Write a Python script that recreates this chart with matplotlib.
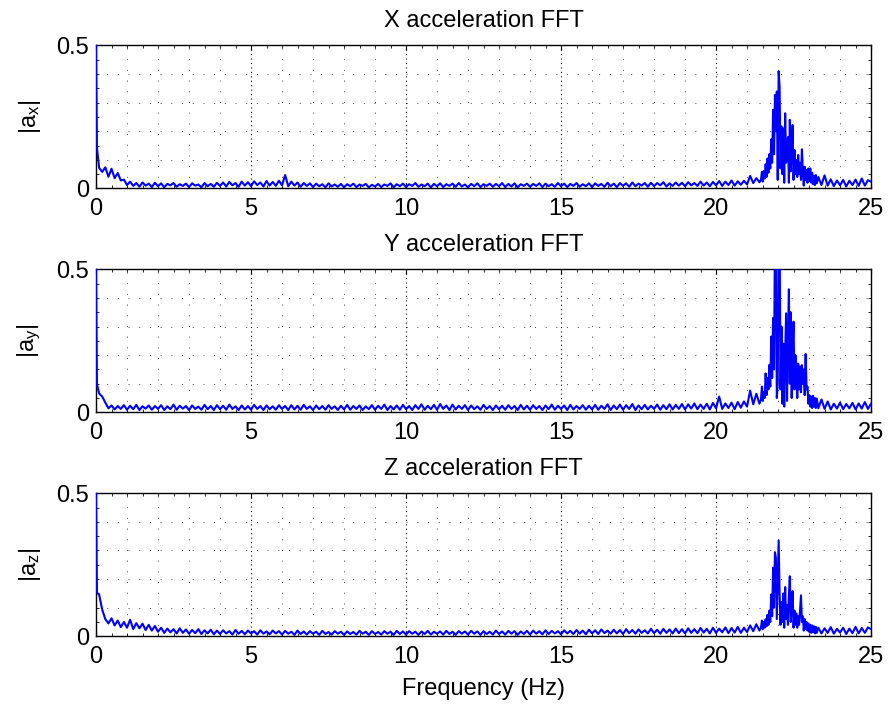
import matplotlib
matplotlib.use("Agg")
import matplotlib.pyplot as plt
import numpy as np

plt.rcParams['font.family'] = ['Liberation Sans', 'DejaVu Sans']
plt.rcParams['mathtext.fontset'] = 'custom'
plt.rcParams['mathtext.rm'] = 'Liberation Sans'

# frequency bins (Hz): DC + first bin, coarse up to 21.4, fine over the resonance, coarse tail
freq = np.concatenate([
    [0.0, 0.03],
    np.round(np.arange(0.1, 21.45, 0.1), 2),
    np.linspace(21.45, 23.25, 61),
    np.linspace(23.3, 25.0, 18),
])

# |a_x| spectrum
amp_x = [
    0.500, 0.142,
    0.072, 0.058, 0.074, 0.041, 0.069, 0.036, 0.054, 0.028, 0.031,
    0.012, 0.024, 0.009, 0.019, 0.006, 0.021, 0.010, 0.017, 0.005, 0.020,
    0.008, 0.018, 0.004, 0.016, 0.011, 0.019, 0.006, 0.015, 0.009, 0.017,
    0.005, 0.018, 0.010, 0.014, 0.004, 0.019, 0.008, 0.016, 0.006, 0.020,
    0.009, 0.021, 0.007, 0.023, 0.011, 0.019, 0.006, 0.024, 0.010, 0.022,
    0.008, 0.025, 0.012, 0.021, 0.007, 0.026, 0.010, 0.023, 0.009, 0.027,
    0.011, 0.047, 0.008, 0.024, 0.010, 0.021, 0.006, 0.019, 0.009, 0.018,
    0.005, 0.017, 0.008, 0.015, 0.004, 0.018, 0.007, 0.014, 0.006, 0.016,
    0.004, 0.015, 0.008, 0.017, 0.005, 0.014, 0.009, 0.016, 0.004, 0.013,
    0.007, 0.016, 0.005, 0.014, 0.009, 0.018, 0.004, 0.015, 0.008, 0.017,
    0.005, 0.015, 0.009, 0.019, 0.006, 0.014, 0.008, 0.017, 0.004, 0.016,
    0.008, 0.018, 0.005, 0.015, 0.009, 0.017, 0.006, 0.019, 0.007, 0.014,
    0.004, 0.016, 0.008, 0.018, 0.005, 0.015, 0.009, 0.017, 0.006, 0.016,
    0.008, 0.019, 0.005, 0.016, 0.007, 0.018, 0.004, 0.015, 0.009, 0.017,
    0.006, 0.016, 0.009, 0.018, 0.005, 0.017, 0.008, 0.015, 0.006, 0.019,
    0.008, 0.017, 0.005, 0.016, 0.009, 0.019, 0.006, 0.015, 0.008, 0.018,
    0.005, 0.018, 0.009, 0.016, 0.006, 0.020, 0.008, 0.017, 0.005, 0.019,
    0.009, 0.018, 0.006, 0.021, 0.008, 0.017, 0.010, 0.019, 0.006, 0.020,
    0.008, 0.019, 0.011, 0.022, 0.007, 0.018, 0.009, 0.021, 0.010, 0.020,
    0.008, 0.022, 0.011, 0.019, 0.009, 0.024, 0.010, 0.021, 0.008, 0.023,
    0.011, 0.026, 0.009, 0.024, 0.012, 0.028, 0.010, 0.025, 0.013, 0.027,
    0.014, 0.044, 0.019, 0.036, 0.022,
    # resonance
    0.030, 0.058, 0.024, 0.061, 0.035, 0.085, 0.040, 0.105, 0.055, 0.120,
    0.070, 0.172, 0.090, 0.275, 0.120, 0.327, 0.200, 0.339, 0.030, 0.410,
    0.356, 0.070, 0.217, 0.050, 0.210, 0.020, 0.263, 0.090, 0.140, 0.180,
    0.020, 0.240, 0.060, 0.130, 0.222, 0.030, 0.135, 0.050, 0.100, 0.040,
    0.117, 0.050, 0.090, 0.030, 0.137, 0.060, 0.010, 0.076, 0.030, 0.065,
    0.020, 0.070, 0.025, 0.070, 0.020, 0.055, 0.015, 0.045, 0.012, 0.047,
    0.018,
    # tail
    0.040, 0.012, 0.046, 0.010, 0.032, 0.008, 0.028, 0.011, 0.030, 0.007,
    0.027, 0.012, 0.031, 0.009, 0.035, 0.010, 0.029, 0.024,
]

# |a_y| spectrum
amp_y = [
    0.500, 0.098,
    0.066, 0.055, 0.034, 0.014, 0.024, 0.010, 0.022, 0.012, 0.025,
    0.009, 0.023, 0.011, 0.026, 0.008, 0.021, 0.013, 0.024, 0.009, 0.022,
    0.012, 0.025, 0.008, 0.021, 0.011, 0.027, 0.009, 0.023, 0.013, 0.022,
    0.008, 0.024, 0.012, 0.020, 0.009, 0.026, 0.011, 0.022, 0.008, 0.025,
    0.011, 0.023, 0.009, 0.027, 0.012, 0.021, 0.008, 0.024, 0.010, 0.022,
    0.009, 0.026, 0.012, 0.022, 0.008, 0.024, 0.011, 0.021, 0.009, 0.025,
    0.012, 0.022, 0.008, 0.025, 0.010, 0.023, 0.009, 0.026, 0.012, 0.021,
    0.008, 0.024, 0.011, 0.022, 0.009, 0.025, 0.012, 0.021, 0.008, 0.023,
    0.010, 0.026, 0.009, 0.022, 0.012, 0.024, 0.008, 0.021, 0.011, 0.025,
    0.009, 0.023, 0.012, 0.027, 0.008, 0.022, 0.010, 0.024, 0.009, 0.026,
    0.011, 0.022, 0.008, 0.025, 0.012, 0.028, 0.009, 0.023, 0.011, 0.026,
    0.009, 0.029, 0.012, 0.024, 0.008, 0.027, 0.010, 0.023, 0.012, 0.025,
    0.008, 0.024, 0.011, 0.021, 0.009, 0.026, 0.012, 0.022, 0.008, 0.024,
    0.011, 0.023, 0.009, 0.025, 0.012, 0.022, 0.008, 0.026, 0.010, 0.023,
    0.009, 0.025, 0.012, 0.022, 0.008, 0.024, 0.011, 0.027, 0.009, 0.023,
    0.012, 0.024, 0.008, 0.026, 0.010, 0.022, 0.012, 0.025, 0.009, 0.023,
    0.010, 0.026, 0.009, 0.023, 0.012, 0.028, 0.008, 0.024, 0.011, 0.027,
    0.009, 0.025, 0.012, 0.029, 0.008, 0.024, 0.011, 0.026, 0.010, 0.023,
    0.012, 0.027, 0.009, 0.025, 0.011, 0.028, 0.010, 0.026, 0.012, 0.029,
    0.010, 0.028, 0.013, 0.031, 0.011, 0.027, 0.012, 0.030, 0.010, 0.033,
    0.014, 0.055, 0.012, 0.031, 0.015, 0.034, 0.011, 0.036, 0.016, 0.038,
    0.020, 0.076, 0.028, 0.065, 0.030,
    # resonance
    0.045, 0.090, 0.040, 0.070, 0.050, 0.136, 0.060, 0.120, 0.080, 0.166,
    0.090, 0.265, 0.120, 0.330, 0.150, 0.620, 0.580, 0.050, 0.100, 0.600,
    0.650, 0.080, 0.300, 0.030, 0.240, 0.020, 0.200, 0.346, 0.040, 0.250,
    0.430, 0.100, 0.350, 0.050, 0.220, 0.317, 0.080, 0.200, 0.136, 0.050,
    0.170, 0.080, 0.160, 0.070, 0.165, 0.100, 0.150, 0.060, 0.204, 0.080,
    0.090, 0.030, 0.060, 0.020, 0.055, 0.015, 0.058, 0.020, 0.050, 0.015,
    0.048,
    # tail
    0.014, 0.045, 0.012, 0.038, 0.010, 0.030, 0.013, 0.034, 0.011, 0.029,
    0.014, 0.033, 0.010, 0.031, 0.013, 0.036, 0.012, 0.030,
]

# |a_z| spectrum
amp_z = [
    0.500, 0.152,
    0.146, 0.093, 0.060, 0.045, 0.063, 0.038, 0.055, 0.032, 0.050,
    0.030, 0.058, 0.025, 0.046, 0.028, 0.044, 0.022, 0.040, 0.020, 0.036,
    0.016, 0.030, 0.012, 0.027, 0.014, 0.025, 0.010, 0.028, 0.012, 0.024,
    0.009, 0.022, 0.011, 0.025, 0.008, 0.021, 0.010, 0.023, 0.007, 0.020,
    0.008, 0.021, 0.010, 0.018, 0.006, 0.022, 0.009, 0.019, 0.007, 0.020,
    0.010, 0.018, 0.006, 0.021, 0.009, 0.017, 0.007, 0.020, 0.010, 0.018,
    0.006, 0.019, 0.009, 0.016, 0.005, 0.020, 0.008, 0.017, 0.006, 0.018,
    0.009, 0.016, 0.005, 0.019, 0.008, 0.015, 0.006, 0.018, 0.009, 0.016,
    0.005, 0.017, 0.008, 0.015, 0.006, 0.019, 0.009, 0.016, 0.005, 0.018,
    0.008, 0.015, 0.006, 0.018, 0.009, 0.016, 0.005, 0.019, 0.008, 0.017,
    0.006, 0.018, 0.009, 0.016, 0.005, 0.017, 0.008, 0.019, 0.006, 0.016,
    0.009, 0.017, 0.006, 0.019, 0.008, 0.016, 0.005, 0.018, 0.009, 0.017,
    0.006, 0.019, 0.009, 0.017, 0.005, 0.018, 0.008, 0.016, 0.006, 0.020,
    0.008, 0.017, 0.006, 0.019, 0.009, 0.018, 0.005, 0.017, 0.008, 0.019,
    0.006, 0.020, 0.009, 0.018, 0.007, 0.021, 0.008, 0.019, 0.010, 0.018,
    0.007, 0.021, 0.010, 0.019, 0.008, 0.022, 0.009, 0.020, 0.007, 0.023,
    0.010, 0.021, 0.008, 0.024, 0.011, 0.020, 0.009, 0.023, 0.010, 0.022,
    0.008, 0.025, 0.011, 0.022, 0.009, 0.024, 0.012, 0.021, 0.010, 0.026,
    0.011, 0.023, 0.009, 0.026, 0.012, 0.024, 0.010, 0.027, 0.011, 0.025,
    0.010, 0.028, 0.012, 0.025, 0.011, 0.029, 0.013, 0.026, 0.010, 0.030,
    0.012, 0.027, 0.014, 0.031, 0.011, 0.029, 0.013, 0.033, 0.012, 0.030,
    0.015, 0.038, 0.018, 0.042, 0.020,
    # resonance
    0.030, 0.055, 0.025, 0.050, 0.030, 0.060, 0.035, 0.075, 0.040, 0.090,
    0.050, 0.146, 0.070, 0.240, 0.100, 0.294, 0.276, 0.060, 0.200, 0.335,
    0.150, 0.040, 0.120, 0.050, 0.150, 0.030, 0.172, 0.060, 0.110, 0.040,
    0.140, 0.210, 0.050, 0.100, 0.158, 0.030, 0.090, 0.040, 0.080, 0.030,
    0.070, 0.040, 0.090, 0.143, 0.050, 0.070, 0.020, 0.060, 0.025, 0.050,
    0.020, 0.045, 0.015, 0.040, 0.012, 0.038, 0.015, 0.035, 0.010, 0.033,
    0.012,
    # tail
    0.030, 0.010, 0.028, 0.012, 0.032, 0.009, 0.026, 0.013, 0.030, 0.008,
    0.027, 0.011, 0.033, 0.010, 0.029, 0.012, 0.031, 0.025,
]

titles = ['X acceleration FFT', 'Y acceleration FFT', 'Z acceleration FFT']
ylabels = [r'$\mathregular{|a_x|}$', r'$\mathregular{|a_y|}$', r'$\mathregular{|a_z|}$']
spectra = [amp_x, amp_y, amp_z]

FS = 17
fig = plt.figure(figsize=(8.89, 7.07), dpi=100, facecolor='white')
bottoms = [0.7334, 0.4168, 0.1000]

for k in range(3):
    ax = fig.add_axes([0.108, bottoms[k], 0.8718, 0.2023])
    # spectrum sits on top of the frame so the DC spike shows along the left edge
    ax.plot(freq, spectra[k], color='#0000ff', lw=1.5, zorder=3)
    ax.set_xlim(0, 25)
    ax.set_ylim(0, 0.5)

    # minor dotted grid every 1 Hz / 0.1, darker one at the labelled frequencies
    for f in range(1, 25):
        if f % 5 == 0:
            ax.axvline(f, color='black', lw=0.8, ls=(0, (1, 3)), zorder=1)
        else:
            ax.axvline(f, color='#444444', lw=0.7, ls=(0, (1, 10)), zorder=1)
    for y in [0.1, 0.2, 0.3, 0.4]:
        ax.axhline(y, color='#444444', lw=0.7, ls=(0, (1, 10)), zorder=1)

    ax.set_xticks([0, 5, 10, 15, 20, 25])
    ax.set_xticklabels(['0', '5', '10', '15', '20', '25'])
    ax.set_yticks([0, 0.5])
    ax.set_yticklabels(['0', '0.5'])
    ax.set_xticks(np.arange(0, 25.01, 0.5), minor=True)
    ax.set_yticks(np.arange(0, 0.501, 0.05), minor=True)
    ax.tick_params(which='both', direction='in', top=True, right=True,
                   labelsize=FS, color='black')
    ax.tick_params(which='major', length=3.5, width=0.8)
    ax.tick_params(which='minor', length=2, width=0.6)
    ax.tick_params(axis='x', pad=7)
    ax.tick_params(axis='y', pad=5)
    for s in ax.spines.values():
        s.set_linewidth(1.0)
        s.set_color('black')
        s.set_zorder(2.5)

    ax.set_title(titles[k], fontsize=FS, pad=13)
    ax.set_ylabel(ylabels[k], fontsize=FS, labelpad=9.5)

ax.set_xlabel('Frequency (Hz)', fontsize=FS, labelpad=7)

fig.savefig('out.png', dpi=100)
